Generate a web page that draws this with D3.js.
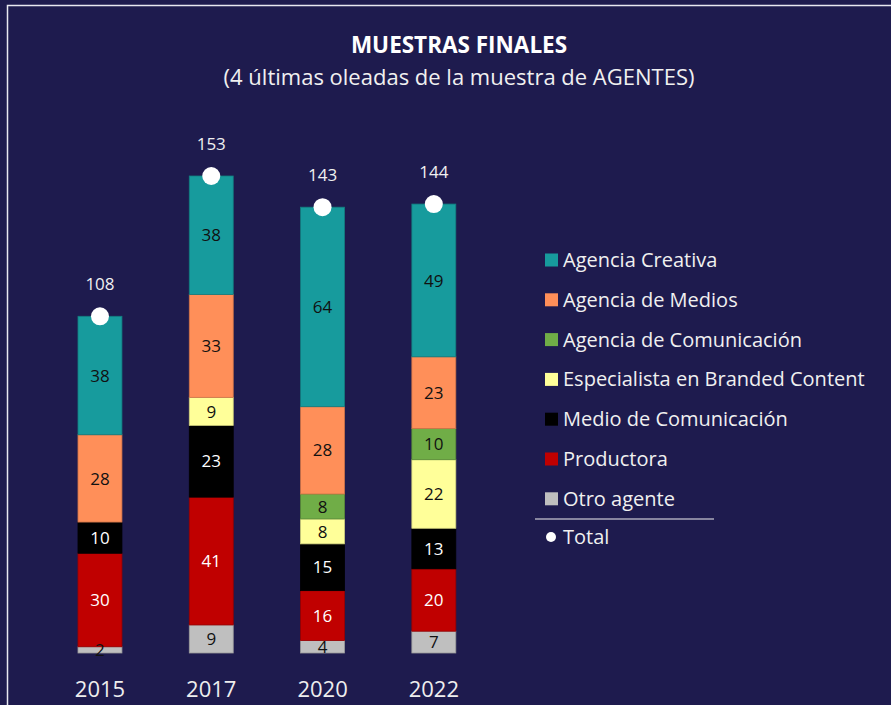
<!DOCTYPE html>
<html lang="es">
<head>
<meta charset="UTF-8">
<title>Muestras finales</title>
<script src="https://cdn.jsdelivr.net/npm/d3@7.8.5/dist/d3.min.js"></script>
<style>
  * { margin: 0; padding: 0; box-sizing: border-box; }
  body { background: #1e1b4e; width: 891px; height: 705px; overflow: hidden;
         font-family: 'Open Sans', 'Noto Sans', sans-serif; }
  svg { display: block; }
</style>
</head>
<body>
<svg id="chart" width="891" height="705"></svg>
<script>
// datos
const years = ["2015", "2017", "2020", "2022"];
const agentes = ["Otro agente", "Productora", "Medio de Comunicación", "Especialista en Branded Content",
                 "Agencia de Comunicación", "Agencia de Medios", "Agencia Creativa"];
const otro        = [2, 9, 4, 7];
const productora  = [30, 41, 16, 20];
const medio       = [10, 23, 15, 13];
const especialista= [0, 9, 8, 22];
const agComunic   = [0, 0, 8, 10];
const agMedios    = [28, 33, 28, 23];
const agCreativa  = [38, 38, 64, 49];
const totals      = [108, 153, 143, 144];

const series = [otro, productora, medio, especialista, agComunic, agMedios, agCreativa];
const colors = ["#bfbfbf", "#c00000", "#000000", "#ffff99", "#70ad47", "#ff8f59", "#179b9d"];
const labelColors = ["#111", "#fff", "#fff", "#111", "#111", "#111", "#111"];

const table = years.map((y, i) => {
  const row = { year: y };
  agentes.forEach((a, k) => row[a] = series[k][i]);
  return row;
});

const svg = d3.select("#chart");

// marco
svg.append("rect")
  .attr("x", 7.5).attr("y", 5.5)
  .attr("width", 900).attr("height", 720)
  .attr("fill", "none").attr("stroke", "#e8e8f0").attr("stroke-width", 1.5);

// títulos
svg.append("text").attr("x", 459).attr("y", 53)
  .attr("text-anchor", "middle").attr("fill", "#fff")
  .style("font-size", "22.5px").style("font-weight", "700")
  .text("MUESTRAS FINALES");
svg.append("text").attr("x", 459).attr("y", 85)
  .attr("text-anchor", "middle").attr("fill", "#f0f0f0")
  .style("font-size", "22px")
  .text("(4 últimas oleadas de la muestra de AGENTES)");

const x = d3.scaleBand().domain(years).range([44.6, 489.2]).paddingInner(0.605).paddingOuter(0.3);
const y = d3.scaleLinear().domain([0, 153]).range([653, 176]);

const stack = d3.stack().keys(agentes)(table);

// segmentos
stack.forEach((layer, k) => {
  const segs = layer.filter(d => d[1] - d[0] > 0);
  svg.append("g").selectAll("rect").data(segs).enter().append("rect")
    .attr("x", d => x(d.data.year))
    .attr("width", x.bandwidth())
    .attr("y", d => y(d[1]))
    .attr("height", d => y(d[0]) - y(d[1]))
    .attr("fill", colors[k])
    .attr("stroke", d3.color(colors[k]).darker(0.6))
    .attr("stroke-width", 0.8);
});

// etiquetas de segmento (encima de todo)
stack.forEach((layer, k) => {
  const segs = layer.filter(d => d[1] - d[0] > 0);
  svg.append("g").selectAll("text").data(segs).enter().append("text")
    .attr("x", d => x(d.data.year) + x.bandwidth() / 2)
    .attr("y", d => (y(d[0]) + y(d[1])) / 2)
    .attr("dy", "0.36em")
    .attr("text-anchor", "middle")
    .attr("fill", labelColors[k])
    .style("font-size", "17px")
    .text(d => d[1] - d[0]);
});

// totales
svg.selectAll(".dot").data(totals).enter().append("circle")
  .attr("cx", (d, i) => x(years[i]) + x.bandwidth() / 2)
  .attr("cy", d => y(d))
  .attr("r", 9).attr("fill", "#fff");
svg.selectAll(".tot").data(totals).enter().append("text")
  .attr("x", (d, i) => x(years[i]) + x.bandwidth() / 2)
  .attr("y", d => y(d) - 26)
  .attr("text-anchor", "middle").attr("fill", "#f0f0f0")
  .style("font-size", "17px")
  .text(d => d);

// eje x
const xAxis = svg.append("g").attr("transform", "translate(0,653)")
  .call(d3.axisBottom(x).tickSize(0).tickPadding(28));
xAxis.select(".domain").remove();
xAxis.selectAll("text").attr("fill", "#eee").style("font-size", "22px")
  .style("font-family", "'Open Sans', 'Noto Sans', sans-serif");

// leyenda
const legendItems = agentes.slice().reverse();
const legendColors = colors.slice().reverse();
const legend = svg.append("g").attr("transform", "translate(545,260)");
legendItems.forEach((name, i) => {
  const row = legend.append("g").attr("transform", `translate(0,${i * 39.8})`);
  row.append("rect").attr("x", 0).attr("y", -6.5).attr("width", 13).attr("height", 13)
    .attr("fill", legendColors[i]);
  row.append("text").attr("x", 18).attr("y", 0).attr("dy", "0.35em")
    .attr("fill", "#f0f0f0").style("font-size", "20px").text(name);
});
legend.append("line").attr("x1", -10).attr("x2", 169).attr("y1", 259).attr("y2", 259)
  .attr("stroke", "#f0f0f0").attr("stroke-width", 1.2);
legend.append("circle").attr("cx", 6).attr("cy", 277).attr("r", 5).attr("fill", "#fff");
legend.append("text").attr("x", 18).attr("y", 277).attr("dy", "0.35em")
  .attr("fill", "#f0f0f0").style("font-size", "20px").text("Total");
</script>
</body>
</html>
